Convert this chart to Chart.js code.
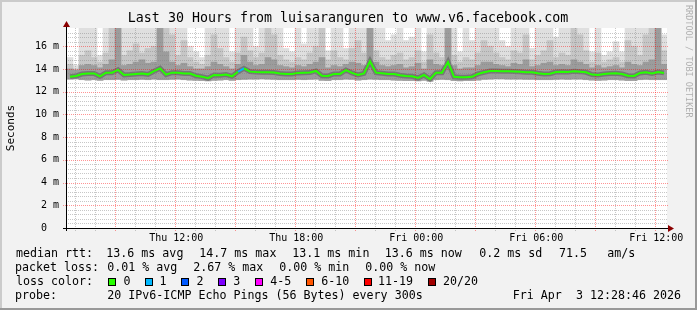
<!DOCTYPE html>
<html>
<head>
<meta charset="utf-8">
<script src="https://cdn.jsdelivr.net/npm/chart.js@4.4.1/dist/chart.umd.min.js"></script>
<style>
  html, body { margin: 0; padding: 0; background: #f2f2f2; }
  #wrap { width: 697px; height: 310px; }
</style>
</head>
<body>
<div id="wrap"><canvas id="pingChart" width="697" height="310"></canvas></div>
<script>
// 30 hours in 100 bins of 18 minutes, values in ms
const binSize = 0.3;
const startHour = 6.535;   // hour of day (Thu) at the left edge
const yMax = 17.6;

const median = [
  13.32, 13.38, 13.55, 13.60, 13.60, 13.35, 13.67, 13.67, 13.92, 13.47,
  13.50, 13.56, 13.60, 13.52, 13.80, 14.05, 13.50, 13.67, 13.67, 13.60,
  13.60, 13.40, 13.32, 13.18, 13.47, 13.45, 13.50, 13.35, 13.75, 14.05,
  13.76, 13.72, 13.70, 13.70, 13.68, 13.60, 13.56, 13.55, 13.65, 13.67,
  13.68, 13.82, 13.40, 13.38, 13.56, 13.56, 13.90, 13.65, 13.47, 13.60,
  14.68, 13.67, 13.62, 13.56, 13.55, 13.45, 13.38, 13.35, 13.20, 13.47,
  13.10, 13.67, 13.67, 14.60, 13.30, 13.26, 13.26, 13.30, 13.56, 13.70,
  13.82, 13.82, 13.80, 13.80, 13.78, 13.75, 13.70, 13.70, 13.62, 13.56,
  13.58, 13.72, 13.76, 13.72, 13.80, 13.76, 13.70, 13.50, 13.47, 13.55,
  13.60, 13.62, 13.55, 13.40, 13.38, 13.65, 13.70, 13.60, 13.72, 13.65
];

const smokeLow = [
  13.10, 13.12, 13.05, 13.02, 13.05, 13.00, 13.05, 13.05, 13.08, 13.02,
  13.05, 13.05, 13.08, 13.05, 13.10, 13.05, 13.05, 13.08, 13.10, 13.05,
  13.02, 13.00, 12.98, 12.95, 13.00, 13.02, 13.05, 13.00, 13.05, 13.08,
  13.10, 13.10, 13.12, 13.10, 13.08, 13.05, 13.05, 13.05, 13.08, 13.05,
  13.08, 13.10, 13.00, 12.98, 13.05, 13.05, 13.10, 13.08, 13.02, 13.05,
  13.10, 13.08, 13.05, 13.05, 13.02, 13.00, 12.98, 12.98, 12.95, 13.00,
  12.92, 13.05, 13.08, 13.05, 12.98, 12.95, 12.98, 12.98, 13.02, 13.08,
  13.10, 13.12, 13.12, 13.10, 13.10, 13.10, 13.08, 13.08, 13.05, 13.05,
  13.05, 13.08, 13.10, 13.08, 13.10, 13.10, 13.05, 13.02, 13.00, 13.02,
  13.05, 13.05, 13.02, 12.98, 12.98, 13.05, 13.08, 13.05, 13.05, 13.05
];

const smokeTop = [
  15.0, 14.3, 17.6, 17.6, 17.6, 15.2, 17.6, 17.6, 17.6, 17.6,
  17.6, 17.6, 17.6, 17.6, 17.6, 17.6, 17.6, 17.6, 17.6, 17.6,
  16.0, 15.5, 15.0, 17.6, 17.6, 17.6, 17.6, 15.5, 17.6, 17.6,
  17.6, 16.0, 17.6, 17.6, 17.6, 17.6, 15.8, 15.5, 17.6, 16.2,
  17.6, 17.6, 17.6, 15.6, 17.6, 17.6, 15.8, 17.6, 17.6, 17.6,
  17.6, 17.6, 17.6, 16.5, 17.0, 17.6, 16.5, 16.8, 17.6, 15.5,
  17.6, 17.6, 17.6, 17.6, 17.6, 15.5, 17.6, 16.5, 17.6, 17.6,
  17.6, 17.6, 16.5, 16.0, 17.6, 17.6, 17.6, 15.8, 17.6, 17.6,
  17.6, 16.8, 17.6, 17.6, 17.6, 17.6, 17.6, 15.5, 17.6, 15.2,
  15.5, 16.4, 15.5, 17.6, 17.6, 17.6, 17.6, 17.6, 17.6, 17.0
];

const smokeMid = [
  14.4, 14.0, 15.2, 15.6, 15.0, 14.6, 15.4, 17.6, 17.6, 15.2,
  15.6, 16.2, 15.4, 15.8, 16.0, 17.6, 17.6, 17.0, 15.2, 16.5,
  15.0, 14.6, 14.4, 15.2, 17.0, 15.8, 15.0, 14.6, 15.4, 16.8,
  15.6, 15.0, 15.4, 17.6, 17.0, 15.2, 14.8, 14.6, 15.0, 14.8,
  15.4, 16.0, 17.6, 14.8, 15.6, 15.0, 14.8, 15.8, 16.5, 15.4,
  17.6, 15.6, 15.0, 14.8, 15.2, 15.4, 14.8, 15.0, 15.6, 14.6,
  17.0, 15.4, 15.0, 17.6, 15.2, 14.6, 15.0, 14.8, 15.4, 16.5,
  16.0, 15.4, 15.0, 14.8, 15.6, 15.4, 17.0, 14.8, 15.2, 15.6,
  16.5, 15.0, 15.4, 15.2, 17.6, 17.0, 15.6, 14.6, 15.4, 14.6,
  14.8, 15.0, 14.6, 16.5, 16.0, 15.2, 17.0, 17.6, 17.6, 15.6
];

const smokeDark = [
  14.0, 13.9, 14.3, 14.4, 14.3, 14.1, 14.4, 14.8, 17.6, 14.3,
  14.4, 14.6, 14.8, 14.5, 14.6, 17.6, 15.5, 14.6, 14.3, 14.5,
  14.2, 14.0, 14.0, 14.2, 14.6, 14.4, 14.2, 14.0, 14.4, 15.2,
  14.6, 14.3, 14.4, 15.0, 14.8, 14.3, 14.2, 14.1, 14.3, 14.2,
  14.4, 14.6, 15.0, 14.1, 14.3, 14.2, 14.4, 14.6, 14.5, 14.3,
  17.6, 14.6, 14.3, 14.2, 14.3, 14.4, 14.1, 14.2, 14.5, 14.0,
  14.8, 14.4, 14.3, 17.6, 14.3, 14.0, 14.1, 14.1, 14.3, 14.6,
  14.6, 14.4, 14.3, 14.2, 14.5, 14.4, 14.8, 14.2, 14.3, 14.5,
  14.6, 14.3, 14.4, 14.3, 14.8, 14.6, 14.4, 14.1, 14.3, 14.1,
  14.2, 14.3, 14.1, 14.6, 14.4, 14.3, 14.6, 14.8, 17.6, 14.4
];

// lost pings per bin
const lossCount = [
  0, 0, 0, 0, 0, 0, 0, 0, 0, 0,
  0, 0, 0, 0, 0, 0, 0, 0, 0, 0,
  0, 0, 0, 0, 0, 0, 0, 0, 1, 0,
  0, 0, 0, 0, 0, 0, 0, 0, 0, 0,
  0, 0, 0, 0, 0, 0, 0, 0, 0, 0,
  0, 0, 0, 0, 0, 0, 0, 0, 0, 0,
  0, 0, 0, 0, 0, 0, 0, 0, 0, 0,
  0, 0, 0, 0, 0, 0, 0, 0, 0, 0,
  0, 0, 0, 0, 0, 0, 0, 0, 0, 0,
  0, 0, 0, 0, 0, 0, 0, 0, 0, 0
];

const lossLabels = ['0', '1', '2', '3', '4-5', '6-10', '11-19', '20/20'];
const lossLimits = [0, 1, 2, 3, 5, 10, 19, 20];
const lossColors = ['#26ff00', '#00b8ff', '#0059ff', '#7e00ff', '#ff00ff', '#ff5500', '#ff0000', '#a10000'];

const tickHours = [12, 18, 24, 30, 36];
const tickLabels = ['Thu 12:00', 'Thu 18:00', 'Fri 00:00', 'Fri 06:00', 'Fri 12:00'];

const titleText = 'Last 30 Hours from luisaranguren to www.v6.facebook.com';
const rttItems = ['median rtt:', '13.6 ms avg', '14.7 ms max', '13.1 ms min', '13.6 ms now', '0.2 ms sd', '71.5', 'am/s'];
const rttX = [16, 107.3, 200.3, 293.3, 385.7, 479.3, 559, 607.3];
const lossItems = ['packet loss:', '0.01 % avg', '2.67 % max', '0.00 % min', '0.00 % now'];
const lossX = [16, 107.3, 193.3, 279.3, 365.3];
const probeText = '20 IPv6-ICMP Echo Pings (56 Bytes) every 300s';
const dateText = 'Fri Apr  3 12:28:46 2026';

const mono = '"DejaVu Sans Mono"';
const binHours = median.map((_, i) => i * binSize + binSize / 2);

function lossColor(n) {
    let idx = lossLimits.findIndex(l => n <= l);
    return lossColors[idx < 0 ? lossColors.length - 1 : idx];
}

function smokeLayer(top, color, order) {
    return {
        type: 'bar',
        data: top.map((v, i) => ({ x: binHours[i], y: [smokeLow[i], v] })),
        backgroundColor: color,
        borderWidth: 0,
        barPercentage: 1,
        categoryPercentage: 1,
        grouped: false,
        order: order
    };
}

// draw text so that its ink starts at x
function textAt(ctx, text, x, y) {
    let m = ctx.measureText(text);
    ctx.fillText(text, x + m.actualBoundingBoxLeft, y);
    return x + m.actualBoundingBoxLeft + m.width;
}

const gridPlugin = {
    id: 'rrdGrid',
    beforeDatasetDraw(chart, args) {
        if (args.index !== 4) return;
        let { ctx, chartArea: a, scales: { x, y } } = chart;
        ctx.save();
        ctx.lineWidth = 1;
        ctx.setLineDash([1, 1]);
        for (let k = 1; k * 0.4 < yMax - 0.01; k++) {
            let major = k % 5 === 0;
            let py = Math.round(y.getPixelForValue(k * 0.4)) + 0.5;
            ctx.strokeStyle = major ? 'rgba(255,0,0,0.42)' : 'rgba(130,130,130,0.45)';
            ctx.beginPath();
            ctx.moveTo(major ? a.left - 4 : a.left + 1, py);
            ctx.lineTo(a.right + 1, py);
            ctx.stroke();
        }
        for (let h = Math.ceil(startHour); h - startHour <= 30; h++) {
            let major = h % 3 === 0;
            let px = Math.round(x.getPixelForValue(h - startHour)) - 0.5;
            ctx.strokeStyle = major ? 'rgba(255,0,0,0.42)' : 'rgba(130,130,130,0.45)';
            ctx.beginPath();
            ctx.moveTo(px, a.top);
            ctx.lineTo(px, a.bottom + 4);
            ctx.stroke();
        }
        ctx.restore();
    }
};

const framePlugin = {
    id: 'rrdFrame',
    beforeDraw(chart) {
        let ctx = chart.ctx;
        let w = chart.width, h = chart.height;
        ctx.save();
        ctx.fillStyle = '#f2f2f2';
        ctx.fillRect(0, 0, w, h);
        ctx.fillStyle = '#cbcbcb';
        ctx.fillRect(0, 0, w, 2);
        ctx.fillRect(0, 0, 2, h);
        ctx.fillStyle = '#999999';
        ctx.fillRect(0, h - 2, w, 2);
        ctx.fillRect(w - 2, 0, 2, h);
        let a = chart.chartArea;
        ctx.fillStyle = '#ffffff';
        ctx.fillRect(a.left, a.top, a.right - a.left, a.bottom - a.top);
        ctx.restore();
    },
    afterDraw(chart) {
        let ctx = chart.ctx;
        let a = chart.chartArea;
        ctx.save();

        // axes with arrow heads
        ctx.strokeStyle = '#000';
        ctx.lineWidth = 1;
        ctx.beginPath();
        ctx.moveTo(a.left - 0.5, a.bottom + 3);
        ctx.lineTo(a.left - 0.5, a.top - 2);
        ctx.moveTo(a.left - 4, a.bottom + 0.5);
        ctx.lineTo(a.right + 2, a.bottom + 0.5);
        ctx.stroke();
        ctx.fillStyle = '#8b0000';
        ctx.beginPath();
        ctx.moveTo(a.left - 4, a.top - 1);
        ctx.lineTo(a.left + 3, a.top - 1);
        ctx.lineTo(a.left - 0.5, a.top - 7);
        ctx.closePath();
        ctx.fill();
        ctx.beginPath();
        ctx.moveTo(a.right + 1, a.bottom - 3);
        ctx.lineTo(a.right + 1, a.bottom + 4);
        ctx.lineTo(a.right + 7, a.bottom + 0.5);
        ctx.closePath();
        ctx.fill();

        // title
        ctx.fillStyle = '#000';
        ctx.textBaseline = 'middle';
        ctx.textAlign = 'center';
        ctx.font = '13.3px ' + mono;
        ctx.fillText(titleText, 348, 19);

        // axis title
        ctx.save();
        ctx.translate(11, (a.top + a.bottom) / 2);
        ctx.rotate(-Math.PI / 2);
        ctx.font = '11px ' + mono;
        ctx.fillText('Seconds', 0, 0);
        ctx.restore();

        // watermark
        ctx.save();
        ctx.translate(688, 5);
        ctx.rotate(Math.PI / 2);
        ctx.textAlign = 'left';
        ctx.fillStyle = '#b0b0b0';
        ctx.font = '8.5px ' + mono;
        ctx.fillText('RRDTOOL / TOBI OETIKER', 0, 0);
        ctx.restore();

        // legend
        ctx.textAlign = 'left';
        ctx.font = '11.65px ' + mono;
        rttItems.forEach((t, i) => textAt(ctx, t, rttX[i], 254));
        lossItems.forEach((t, i) => textAt(ctx, t, lossX[i], 268));
        textAt(ctx, 'loss color:', 16, 282);
        let bx = 108.3;
        lossLabels.forEach((lbl, i) => {
            let x0 = Math.round(bx) + 0.5;
            ctx.fillStyle = lossColors[i];
            ctx.fillRect(x0, 278.5, 7, 7);
            ctx.strokeStyle = '#000';
            ctx.strokeRect(x0, 278.5, 7, 7);
            ctx.fillStyle = '#000';
            let end = textAt(ctx, lbl, bx + 15.3, 282);
            bx = end + 14.6;
        });
        textAt(ctx, 'probe:', 16, 296);
        textAt(ctx, probeText, 107.3, 296);
        ctx.textAlign = 'right';
        ctx.fillText(dateText, 681, 296);
        ctx.restore();
    }
};

Chart.defaults.font.family = mono;
Chart.defaults.color = '#000';

new Chart(document.getElementById('pingChart'), {
    type: 'bar',
    data: {
        datasets: [
            smokeLayer(smokeTop, '#dfdfdf', 5),
            smokeLayer(smokeMid, '#c6c6c6', 4),
            smokeLayer(smokeDark, '#9c9c9c', 3),
            {
                type: 'line',
                data: median.map((v, i) => ({ x: binHours[i], y: v })),
                borderColor: 'rgba(50,50,50,0.35)',
                borderWidth: 5,
                pointRadius: 0,
                order: 2
            },
            {
                type: 'line',
                data: median.map((v, i) => ({ x: binHours[i], y: v })),
                borderColor: lossColors[0],
                borderWidth: 2,
                pointRadius: 0,
                order: 1,
                segment: {
                    borderColor: c => lossColor(lossCount[c.p0DataIndex])
                }
            }
        ]
    },
    options: {
        responsive: false,
        devicePixelRatio: 1,
        animation: false,
        layout: { padding: { left: 0, top: 28, right: 30, bottom: 0 } },
        plugins: { legend: { display: false }, tooltip: { enabled: false } },
        scales: {
            x: {
                type: 'linear',
                min: 0,
                max: 30,
                offset: false,
                grid: { display: false, drawTicks: false },
                border: { display: false },
                afterFit: s => { s.height = 82; },
                afterBuildTicks: s => { s.ticks = tickHours.map(h => ({ value: h - startHour })); },
                ticks: {
                    autoSkip: false,
                    maxRotation: 0,
                    padding: 4,
                    font: { size: 10 },
                    callback: (v, i) => tickLabels[i]
                }
            },
            y: {
                min: 0,
                max: yMax,
                grid: { display: false, drawTicks: false },
                border: { display: false },
                afterFit: s => { s.width = 67; },
                ticks: {
                    stepSize: 2,
                    includeBounds: false,
                    padding: 8,
                    font: { size: 10 },
                    callback: v => v === 0 ? '0  ' : v + ' m'
                }
            }
        }
    },
    plugins: [framePlugin, gridPlugin]
});
</script>
</body>
</html>
